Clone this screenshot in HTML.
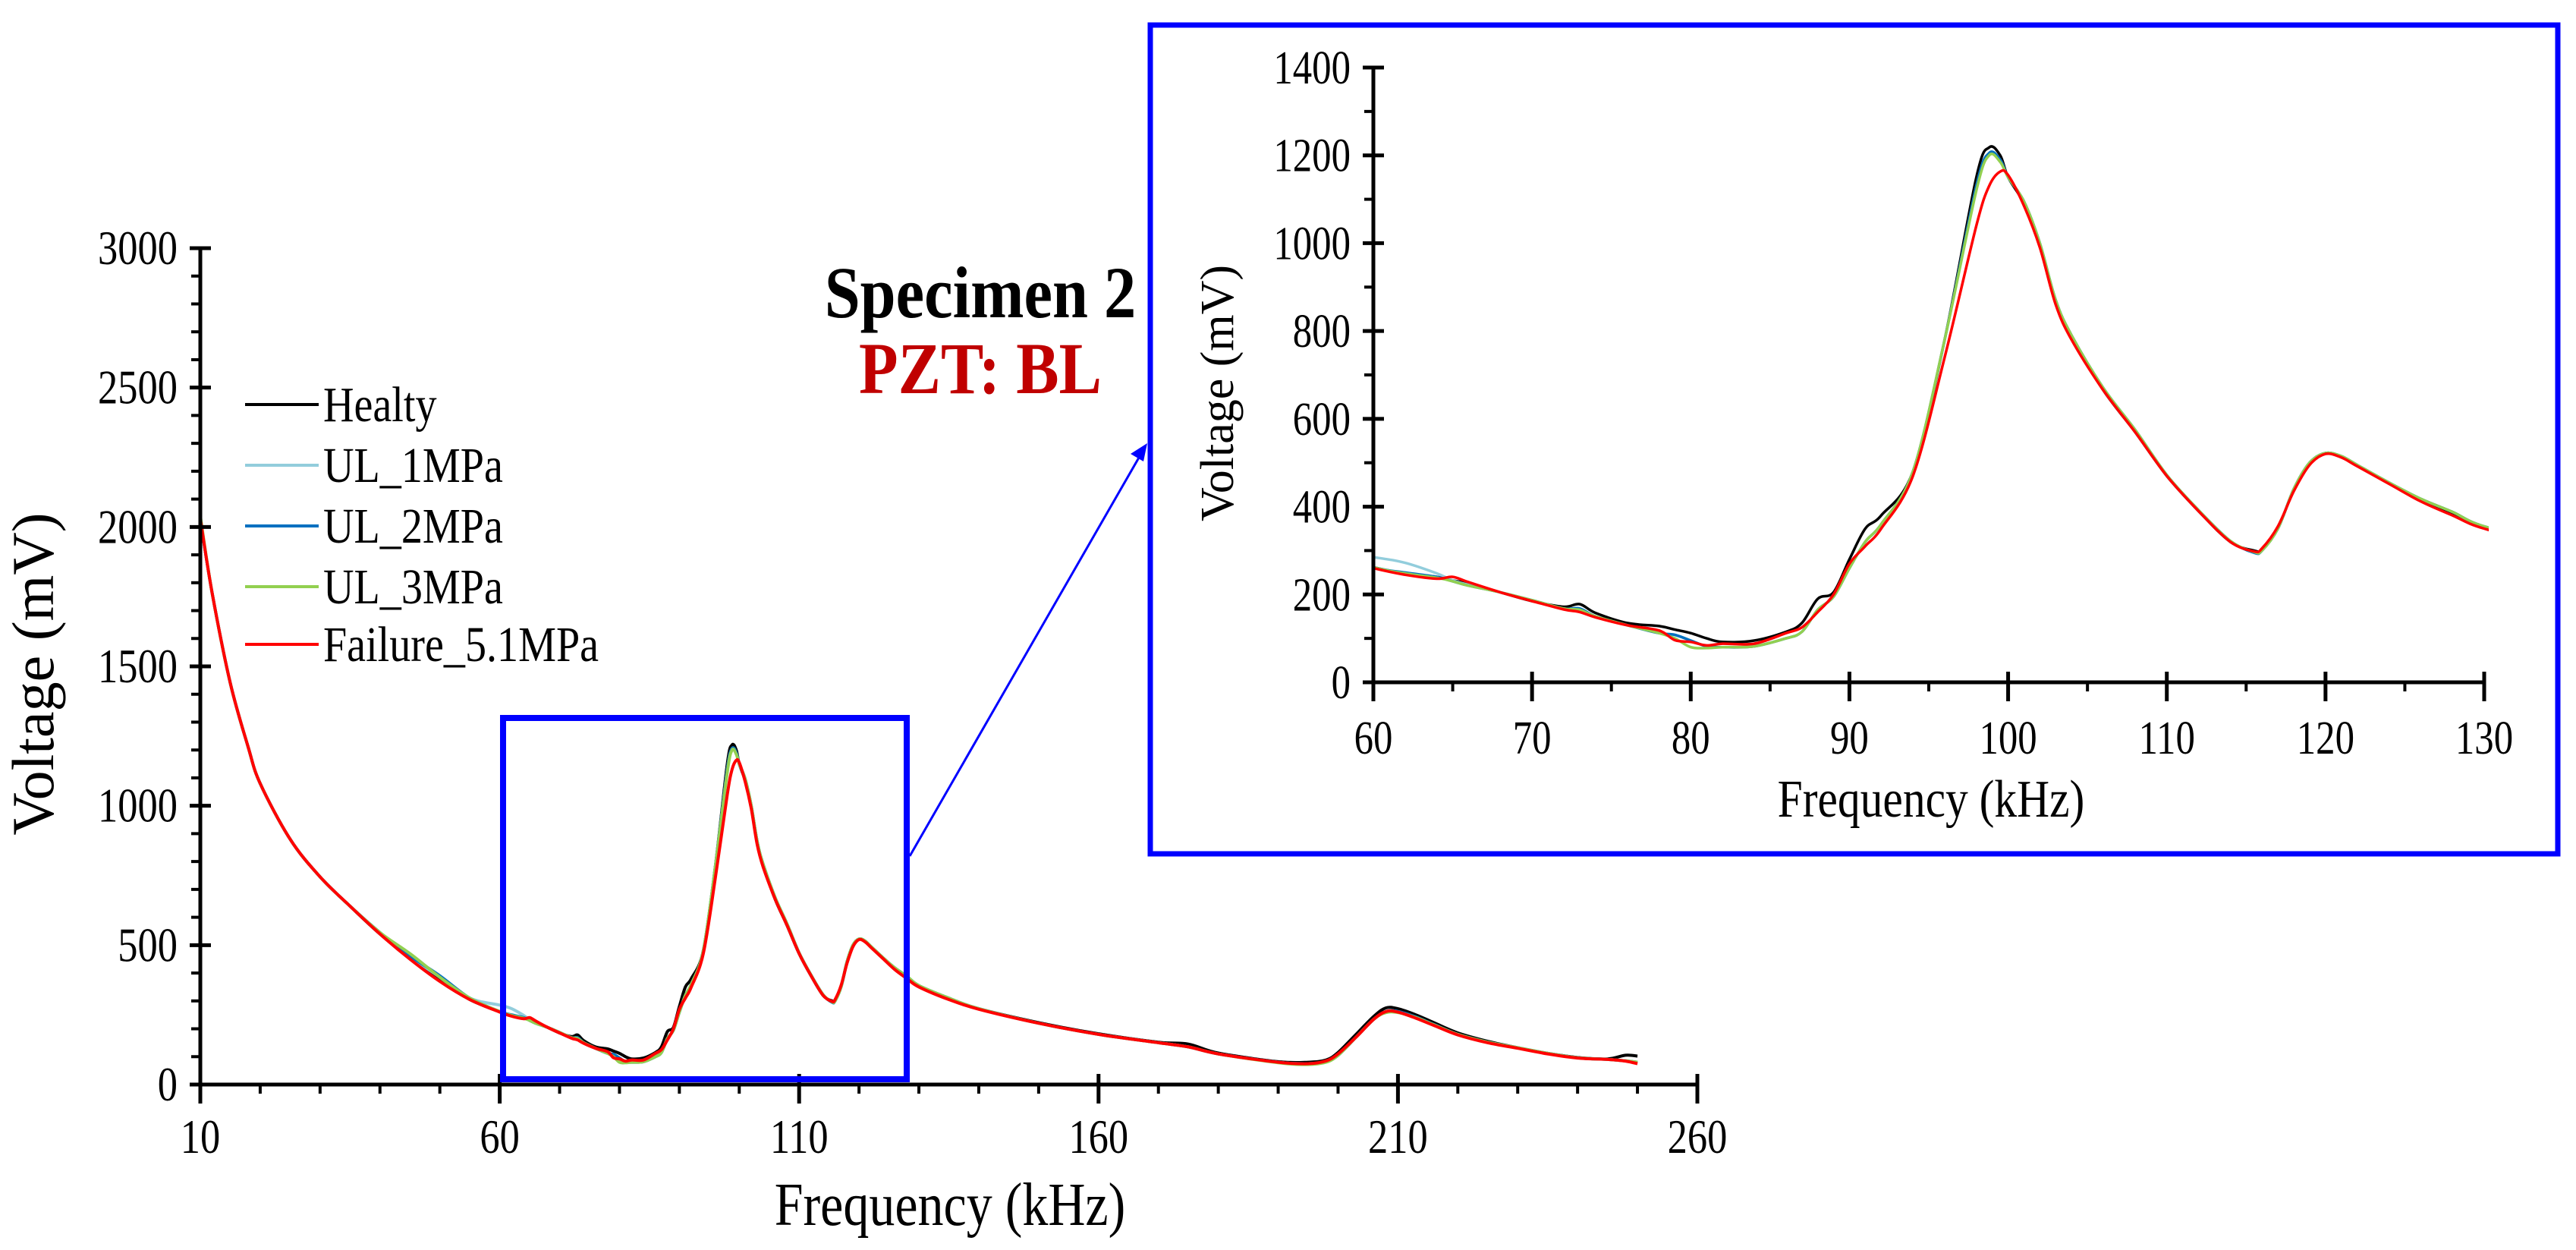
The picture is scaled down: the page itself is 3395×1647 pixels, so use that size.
<!DOCTYPE html>
<html><head><meta charset="utf-8"><style>
html,body{margin:0;padding:0;background:#fff;}
svg{display:block;font-family:"Liberation Serif",serif;}
</style></head><body>
<svg id="chart" width="3395" height="1647" viewBox="0 0 3395 1647" xmlns="http://www.w3.org/2000/svg">
<defs>
<clipPath id="insetClip"><rect x="1810" y="60" width="1470" height="842"/></clipPath>
<clipPath id="mainClip"><rect x="264" y="300" width="1980" height="1133"/></clipPath>
</defs>
<g id="main"></g>
<g id="inset"></g>
<text x="1292" y="418" font-size="96" font-weight="bold" text-anchor="middle" transform="translate(1292 0) scale(0.88 1) translate(-1292 0)">Specimen 2</text>
<text x="1292" y="518" font-size="96" font-weight="bold" fill="#c00000" text-anchor="middle" transform="translate(1292 0) scale(0.88 1) translate(-1292 0)">PZT: BL</text>
</svg>
<script>
const freq = [10,12,15,18,20,25,30,35,40,45,50,55,60,62,64,65,66,68,70,72,73,74,76,78,79,80,81,82,84,86,87,88,89,90,91,92,94,96,98,98.8,99.5,100,101,102,103,104,106,108,110,112,114,115.5,116,117,118,119,120,121,122,124,126,128,130,135,140,150,160,170,175,180,190,195,198,200,203,206,208,210,213,216,220,225,230,235,240,245,248,250];
const healty = [2030,1760,1440,1210,1080,880,745,640,540,455,375,305,262,248,240,232,225,205,185,172,178,158,135,128,120,112,100,92,95,115,135,190,205,280,350,380,480,780,1150,1218,1200,1150,1090,995,870,785,665,570,470,390,320,300,303,350,440,500,522,514,494,454,414,383,352,308,272,222,182,152,145,113,82,80,88,115,180,245,275,272,250,222,185,155,132,112,97,92,105,102];
const ul1 = [2030,1760,1440,1210,1080,880,745,640,545,460,385,310,285,272,248,232,222,205,187,168,168,150,130,112,108,95,82,80,82,100,115,165,195,260,320,360,480,780,1130,1205,1190,1150,1095,1000,870,790,670,575,472,392,322,297,300,350,440,500,522,515,495,455,418,388,355,310,272,220,180,150,135,110,80,75,82,105,170,235,262,262,242,215,180,152,132,112,96,90,85,80];
const ul2 = [2030,1760,1440,1210,1080,880,745,640,545,462,390,310,262,250,240,230,220,205,187,168,168,150,130,112,108,95,82,80,82,100,115,165,195,260,320,360,480,780,1130,1205,1190,1150,1095,1000,870,790,670,575,472,392,322,295,300,350,440,500,522,515,495,455,418,388,355,310,272,220,180,150,135,110,80,75,82,105,170,235,262,262,242,215,180,152,132,112,96,90,85,80];
const ul3 = [2040,1760,1440,1210,1080,880,745,640,545,470,385,310,262,248,238,230,220,205,187,168,165,150,130,112,100,80,78,80,82,100,115,165,195,260,320,360,480,780,1120,1200,1185,1150,1095,1000,870,790,670,575,472,392,322,297,300,350,440,500,522,515,495,455,418,388,355,310,272,220,180,150,135,110,78,72,80,105,170,235,258,258,240,214,180,152,132,112,96,90,85,80];
const failure = [2030,1760,1440,1210,1080,880,745,640,540,450,370,305,260,245,236,240,228,205,185,166,160,148,130,118,96,92,84,88,88,112,125,160,200,270,310,350,470,740,1040,1130,1163,1155,1085,990,860,780,665,570,470,390,320,298,305,355,435,495,520,512,492,452,412,380,350,305,270,220,180,150,135,110,80,75,85,110,170,235,262,260,238,212,178,150,130,110,95,90,84,75];
const seriesNames = ["Healty","UL_1MPa","UL_2MPa","UL_3MPa","Failure_5.1MPa"];
const seriesColors = ["#000000","#92cddc","#0070c0","#92d050","#ff0000"];
const seriesData = [healty, ul1, ul2, ul3, failure];
const mainXTicks = [10,60,110,160,210,260];
const mainYTicks = [0,500,1000,1500,2000,2500,3000];
const insetXTicks = [60,70,80,90,100,110,120,130];
const insetYTicks = [0,200,400,600,800,1000,1200,1400];

const NS="http://www.w3.org/2000/svg";
function mk(parent, tag, attrs, text){
  const e=document.createElementNS(NS,tag);
  for(const k in attrs) e.setAttribute(k, attrs[k]);
  if(text!==undefined) e.textContent=text;
  parent.appendChild(e); return e;
}
function cond(e,x,s){ e.setAttribute('transform',`translate(${x} 0) scale(${s||0.82} 1) translate(${-x} 0)`); }
function smoothPath(pts){
  let d='M'+pts[0][0].toFixed(1)+','+pts[0][1].toFixed(1);
  for(let i=0;i<pts.length-1;i++){
    const p0=pts[i-1]||pts[i], p1=pts[i], p2=pts[i+1], p3=pts[i+2]||p2;
    const c1=[p1[0]+(p2[0]-p0[0])/6, p1[1]+(p2[1]-p0[1])/6];
    const c2=[p2[0]-(p3[0]-p1[0])/6, p2[1]-(p3[1]-p1[1])/6];
    d+='C'+c1[0].toFixed(1)+','+c1[1].toFixed(1)+' '+c2[0].toFixed(1)+','+c2[1].toFixed(1)+' '+p2[0].toFixed(1)+','+p2[1].toFixed(1);
  }
  return d;
}

function drawChart(g, o){
  const sx=v=>o.x0+(v-o.xmin)/(o.xmax-o.xmin)*(o.x1-o.x0);
  const sy=v=>o.y0-(v-o.ymin)/(o.ymax-o.ymin)*(o.y0-o.y1);
  const sg=mk(g,'g',{'clip-path':`url(#${o.clip})`});
  
  
  seriesData.forEach((arr,i)=>{
    const pts=freq.map((f,j)=>[sx(f),sy(arr[j])]);
    const p=mk(sg,'path',{d:smoothPath(pts),fill:'none',stroke:seriesColors[i],'stroke-width':o.lw,'stroke-linejoin':'round'});
    
    
  });
  const ax=mk(g,'g',{stroke:'#000','stroke-width':5});
  
  
  mk(ax,'line',{x1:o.x0,y1:o.y0,x2:o.x0,y2:o.y1-2});
  mk(ax,'line',{x1:o.x0-2,y1:o.y0,x2:o.x1+2,y2:o.y0});
  for(let v=o.ymin; v<=o.ymax; v+=o.yminor){ mk(ax,'line',{x1:o.x0-12,y1:sy(v),x2:o.x0,y2:sy(v),'stroke-width':4}); }
  for(let v=o.xmin; v<=o.xmax+1e-6; v+=o.xminor){ mk(ax,'line',{x1:sx(v),y1:o.y0,x2:sx(v),y2:o.y0+12,'stroke-width':4}); }
  o.yticks.forEach(v=>{
    mk(ax,'line',{x1:o.x0-14,y1:sy(v),x2:o.x0+14,y2:sy(v)});
    const t=mk(g,'text',{x:o.x0-30,y:sy(v)+21,'font-size':o.fs,'text-anchor':'end'},String(v));
    
    
    cond(t,o.x0-30);
  });
  o.xticks.forEach(v=>{
    mk(ax,'line',{x1:sx(v),y1:o.y0-14,x2:sx(v),y2:o.y0+25});
    const t=mk(g,'text',{x:sx(v),y:o.y0+o.xlabOff,'font-size':o.fs,'text-anchor':'middle'},String(v));
    
    
    cond(t,sx(v));
  });
  const xt=mk(g,'text',{x:o.xtx,y:o.xty,'font-size':o.tfs,'text-anchor':'middle'},'Frequency (kHz)');
  
  
  cond(xt,o.xtx,0.85);
  const yt=mk(g,'text',{x:0,y:0,'font-size':o.ytfs,'text-anchor':'middle',transform:`translate(${o.ytx} ${o.yty}) rotate(-90)`},'Voltage (mV)');
  
  
}

const main=document.getElementById('main');
drawChart(main,{prefix:'main',x0:264,x1:2237,y0:1429,y1:327,xmin:10,xmax:260,ymin:0,ymax:3000,xminor:10,yminor:100,
  xticks:mainXTicks,yticks:mainYTicks,fs:64,tfs:80,ytfs:78,xlabOff:90,xtx:1252,xty:1614,ytx:70,yty:888,lw:4,clip:'mainClip'});

const lg=mk(main,'g',{});


const legY=[533,613,693,773,849];
seriesNames.forEach((n,i)=>{
  const e=mk(lg,'g',{});
  
  
  mk(e,'line',{x1:323,y1:legY[i],x2:420,y2:legY[i],stroke:seriesColors[i],'stroke-width':4});
  const t=mk(e,'text',{x:426,y:legY[i]+22,'font-size':66},n);
  cond(t,426,0.85);
});

const zb=mk(main,'rect',{x:663,y:946,width:532,height:476,fill:'none',stroke:'#0000ff','stroke-width':8});


const cn=mk(main,'line',{x1:1199,y1:1128,x2:1505,y2:596,stroke:'#0000ff','stroke-width':3});


const ah=mk(main,'polygon',{points:'1512,584 1490,598 1507,608',fill:'#0000ff'});



const inset=document.getElementById('inset');
const ib=mk(inset,'rect',{x:1516,y:33,width:1855,height:1092,fill:'#fff',stroke:'#0000ff','stroke-width':7});


drawChart(inset,{prefix:'inset',x0:1810,x1:3274,y0:899,y1:89,xmin:60,xmax:130,ymin:0,ymax:1400,xminor:5,yminor:100,
  xticks:insetXTicks,yticks:insetYTicks,fs:62,tfs:70,ytfs:62,xlabOff:94,xtx:2545,xty:1076,ytx:1625,yty:518,lw:3.5,clip:'insetClip'});
</script>
</body></html>
